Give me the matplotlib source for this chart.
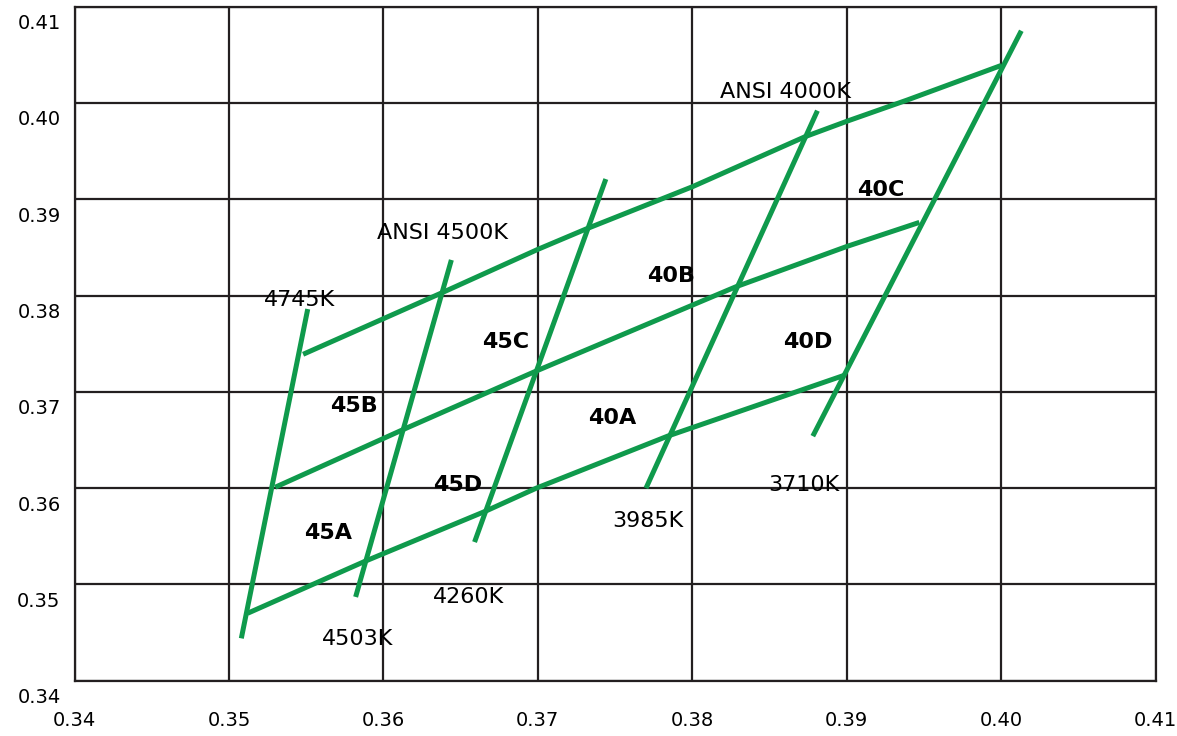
import numpy as np
import matplotlib
matplotlib.use("Agg")
import matplotlib.pyplot as plt
from matplotlib.transforms import ScaledTranslation

# chromaticity (x, y)
top_x = [0.3548, 0.3638, 0.3700, 0.3731, 0.3800, 0.3873, 0.3900, 0.3939, 0.4000]
top_y = [0.3739, 0.3803, 0.3848, 0.3869, 0.3913, 0.3965, 0.3981, 0.4003, 0.4039]
mid_x = [0.3530, 0.3613, 0.3698, 0.3828, 0.3900, 0.3947]
mid_y = [0.3601, 0.3661, 0.3721, 0.3809, 0.3851, 0.3876]
bot_x = [0.3512, 0.3588, 0.3666, 0.3699, 0.3784, 0.3898]
bot_y = [0.3470, 0.3524, 0.3576, 0.3600, 0.3654, 0.3717]

# CCT boundary lines: (x_top, y_top, x_bottom, y_bottom)
cct_names = ["4745K", "4503K", "4260K", "3985K", "3710K"]
cct_x0 = [0.3551, 0.3644, 0.3744, 0.3881, 0.4013]
cct_y0 = [0.3786, 0.3837, 0.3921, 0.3992, 0.4075]
cct_x1 = [0.3508, 0.3582, 0.3659, 0.3770, 0.3878]
cct_y1 = [0.3444, 0.3487, 0.3544, 0.3600, 0.3654]

# text labels
note_text = ["ANSI 4000K", "ANSI 4500K", "4745K", "4503K", "4260K", "3985K", "3710K"]
note_x = [0.3860, 0.3638, 0.3546, 0.3583, 0.3655, 0.3771, 0.3872]
note_y = [0.4011, 0.3865, 0.3795, 0.3443, 0.3487, 0.3566, 0.3603]
bin_text = ["45A", "45B", "45C", "45D", "40A", "40B", "40C", "40D"]
bin_x = [0.3564, 0.3581, 0.3679, 0.3648, 0.3748, 0.3786, 0.3922, 0.3875]
bin_y = [0.3553, 0.3685, 0.3752, 0.3603, 0.3673, 0.3820, 0.3910, 0.3752]

ticks = [0.34, 0.35, 0.36, 0.37, 0.38, 0.39, 0.40, 0.41]

green = "#0f9a4c"
grid_c = "#231f20"

plt.rcParams["font.family"] = "DejaVu Sans"
fig = plt.figure(figsize=(11.77, 7.36), dpi=100)
ax = fig.add_axes([0.0633, 0.0751, 0.9186, 0.9158])

for xs, ys in [(top_x, top_y), (mid_x, mid_y), (bot_x, bot_y)]:
    ax.plot(xs, ys, color=green, lw=3.6, solid_capstyle="butt", zorder=3)
for a, b, c, d in zip(cct_x0, cct_y0, cct_x1, cct_y1):
    ax.plot([a, c], [b, d], color=green, lw=3.6, solid_capstyle="butt", zorder=3)

for t, x, y in zip(note_text, note_x, note_y):
    ax.text(x, y, t, ha="center", va="center", fontsize=16, color="black", zorder=4)
for t, x, y in zip(bin_text, bin_x, bin_y):
    ax.text(x, y, t, ha="center", va="center", fontsize=16, fontweight="bold",
            color="black", zorder=4)

ax.set_xlim(0.34, 0.41)
ax.set_ylim(0.34, 0.41)
ax.set_xticks(ticks)
ax.set_yticks(ticks)
ax.set_xticklabels([f"{t:.2f}" for t in ticks])
ax.set_yticklabels([f"{t:.2f}" for t in ticks])
ax.grid(True, color=grid_c, lw=1.6)
ax.set_axisbelow(True)
for s in ax.spines.values():
    s.set_color(grid_c)
    s.set_linewidth(1.6)
ax.tick_params(length=0, labelsize=14)
ax.tick_params(axis="x", pad=22)
ax.tick_params(axis="y", pad=10)

# y labels sit a little below their grid lines
shift = ScaledTranslation(0, -0.15, fig.dpi_scale_trans)
for lab in ax.get_yticklabels():
    lab.set_transform(lab.get_transform() + shift)

fig.savefig("out.png", dpi=100)
